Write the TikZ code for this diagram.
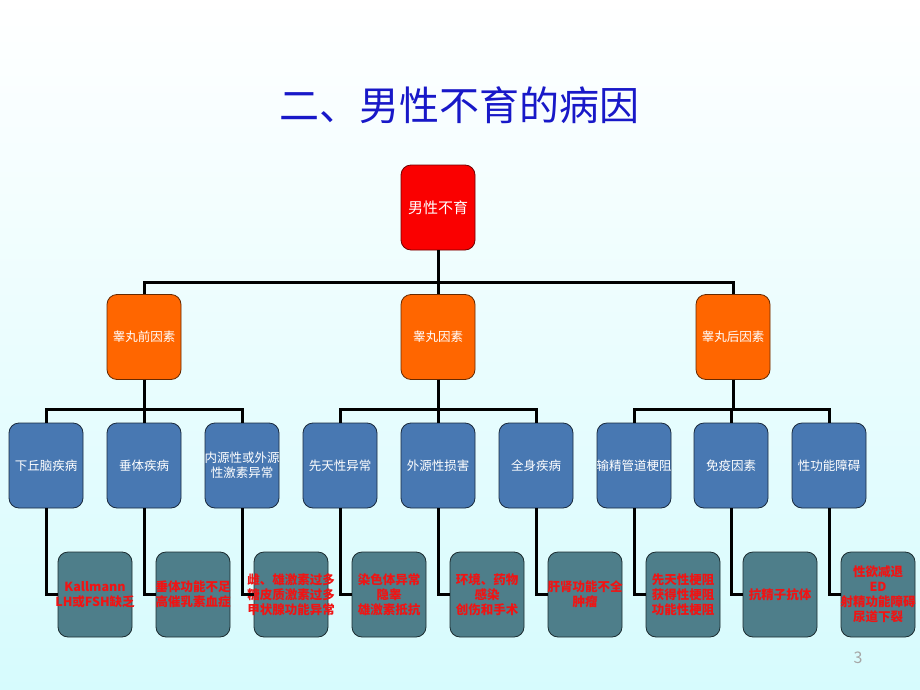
\documentclass[tikz,border=0pt]{standalone}
\usepackage{fontspec}
\setmainfont{Noto Sans CJK SC}
\definecolor{bgcyan}{RGB}{214,251,253}
\definecolor{titleblue}{RGB}{24,24,200}
\definecolor{rootred}{RGB}{250,0,0}
\definecolor{factororange}{RGB}{255,102,0}
\definecolor{causeblue}{RGB}{72,120,178}
\definecolor{detailteal}{RGB}{78,126,138}
\definecolor{detailred}{RGB}{240,20,20}
\begin{document}
\begin{tikzpicture}[x=1pt,y=1pt]
        \tikzset{
          box/.style={rounded corners=10pt,text width=100pt,inner xsep=-13pt,inner ysep=0pt,
            minimum height=85pt,align=center,line width=0.8pt,text=white,
            font=\fontsize{12.5}{15}\selectfont},
          rootbox/.style={box,fill=rootred,draw=rootred!45!black,font=\fontsize{15}{18}\selectfont},
          factorbox/.style={box,fill=factororange,draw=factororange!40!black},
          causebox/.style={box,fill=causeblue,draw=causeblue!35!black},
          detailbox/.style={box,fill=detailteal,draw=detailteal!35!black,text=detailred,
            font=\fontsize{12.5}{15}\selectfont\bfseries},
          link/.style={line width=3pt,black},
        }
        %BACKGROUND
        \shade[top color=white,bottom color=bgcyan] (0,0) rectangle (920,-690);
        \useasboundingbox (0,0) rectangle (920,-690);
        \node[text=titleblue,font=\fontsize{40}{44}\selectfont] (title) at (459,-105) {二、男性不育的病因};

        %ROOT
        \node[rootbox] (root) at (438,-207.5) {男性不育};

        %FACTORS
        \node[factorbox] (pre) at (144,-337) {睾丸前因素};
        \node[factorbox] (tes) at (438,-337) {睾丸因素};
        \node[factorbox] (post) at (733,-337) {睾丸后因素};

        %CAUSES
        \node[causebox] (hyp) at (46,-465.5) {下丘脑疾病};
        \node[causebox] (pit) at (144,-465.5) {垂体疾病};
        \node[causebox] (hor) at (242,-465.5) {内源性或外源\\性激素异常};
        \node[causebox] (con) at (340,-465.5) {先天性异常};
        \node[causebox] (ext) at (438,-465.5) {外源性损害};
        \node[causebox] (sys) at (536,-465.5) {全身疾病};
        \node[causebox] (duct) at (634,-465.5) {输精管道梗阻};
        \node[causebox] (imm) at (731,-465.5) {免疫因素};
        \node[causebox] (sex) at (829,-465.5) {性功能障碍};

        %DETAILS
        \node[detailbox] (hypD) at (95,-594.5) {Kallmann\\LH或FSH缺乏};
        \node[detailbox] (pitD) at (193,-594.5) {垂体功能不足\\高催乳素血症};
        \node[detailbox] (horD) at (291,-594.5) {雌、雄激素过多\\糖皮质激素过多\\甲状腺功能异常};
        \node[detailbox] (conD) at (389,-594.5) {染色体异常\\隐睾\\雄激素抵抗};
        \node[detailbox] (extD) at (487,-594.5) {环境、药物\\感染\\创伤和手术};
        \node[detailbox] (sysD) at (585,-594.5) {肝肾功能不全\\肿瘤};
        \node[detailbox] (ductD) at (683,-594.5) {先天性梗阻\\获得性梗阻\\功能性梗阻};
        \node[detailbox] (immD) at (780,-594.5) {抗精子抗体};
        \node[detailbox] (sexD) at (878,-594.5) {性欲减退\\ED\\射精功能障碍\\尿道下裂};

        %LINKS
        \foreach \c in {pre,tes,post}
          \draw[link] (root.south) -- ++(0,-32) -| (\c.north);
        \foreach \c in {hyp,pit,hor}
          \draw[link] (pre.south) -- ++(0,-30) -| (\c.north);
        \foreach \c in {con,ext,sys}
          \draw[link] (tes.south) -- ++(0,-30) -| (\c.north);
        \foreach \c in {duct,imm,sex}
          \draw[link] (post.south) -- ++(0,-30) -| (\c.north);
        \foreach \c in {hyp,pit,hor,con,ext,sys,duct,imm,sex}
          \draw[link] (\c.south) |- (\c D.west);

        \node[text=black!35,font=\fontsize{16}{18}\selectfont] (page) at (858,-658) {3};
    \end{tikzpicture}
\end{document}
